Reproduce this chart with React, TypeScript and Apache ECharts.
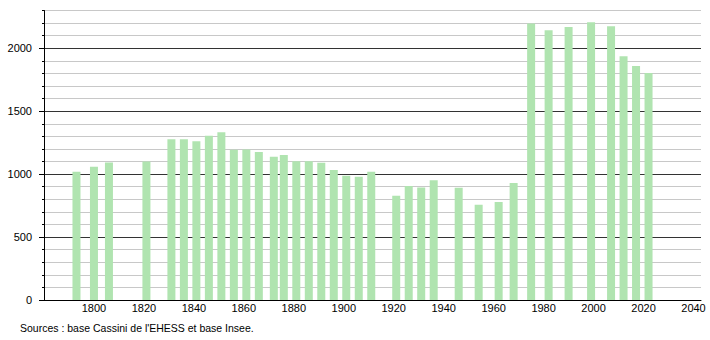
import React, { useEffect, useRef } from "react";
import * as echarts from "echarts";

const years = [1793, 1800, 1806, 1821, 1831, 1836, 1841, 1846, 1851, 1856, 1861, 1866, 1872, 1876, 1881, 1886, 1891, 1896, 1901, 1906, 1911, 1921, 1926, 1931, 1936, 1946, 1954, 1962, 1968, 1975, 1982, 1990, 1999, 2007, 2012, 2017, 2022];
const population = [1018, 1058, 1093, 1101, 1278, 1278, 1262, 1304, 1333, 1193, 1196, 1175, 1138, 1151, 1103, 1103, 1090, 1032, 987, 979, 1018, 828, 905, 894, 952, 891, 757, 778, 929, 2196, 2143, 2169, 2206, 2175, 1937, 1860, 1804];
const yLabelValues = [0, 500, 1000, 1500, 2000];
const sourceText = "Sources : base Cassini de l'EHESS et base Insee.";

export default function App() {
  const ref = useRef<HTMLDivElement>(null);
  useEffect(() => {
    if (!ref.current) return;
    const chart = echarts.init(ref.current, null, { renderer: "svg" });
    const font = "Liberation Sans, Arial, sans-serif";
    chart.setOption({
      animation: false,
      grid: { left: 44, right: 9, top: 10.5, bottom: 40, containLabel: false },
      xAxis: {
        type: "value",
        min: 1780,
        max: 2043,
        interval: 20,
        axisLine: { show: true, lineStyle: { color: "#000", width: 1 } },
        axisTick: { show: false },
        splitLine: { show: false },
        axisLabel: {
          showMinLabel: false,
          showMaxLabel: false,
          color: "#000",
          fontFamily: font,
          fontSize: 11,
          margin: 2,
          formatter: (v: number) => String(v),
        },
      },
      yAxis: [
        {
          type: "value",
          min: 0,
          max: 2300,
          interval: 100,
          position: "left",
          axisLine: { show: true, onZero: false, lineStyle: { color: "#000", width: 1 } },
          axisTick: { show: true, length: 2, lineStyle: { color: "#000" } },
          axisLabel: { show: false },
          splitLine: {
            show: true,
            lineStyle: { color: ["#333", "#c8c8c8", "#c8c8c8", "#c8c8c8", "#c8c8c8"], width: 1 },
          },
        },
        {
          type: "value",
          min: 0,
          max: 2300,
          interval: 100,
          position: "left",
          axisLine: { show: false },
          axisTick: { show: true, length: 5, customValues: yLabelValues, lineStyle: { color: "#000" } },
          axisLabel: {
            show: true,
            customValues: yLabelValues,
            color: "#000",
            fontFamily: font,
            fontSize: 11,
            margin: 12,
            formatter: (v: number) => String(v),
          },
          splitLine: { show: false },
        },
      ],
      series: [
        {
          type: "bar",
          yAxisIndex: 0,
          barWidth: 8,
          itemStyle: { color: "#b0e4b0" },
          data: years.map((y, i) => [y, population[i]]),
        },
      ],
      graphic: [
        {
          type: "text",
          left: 20,
          top: 322,
          style: { text: sourceText, fill: "#000", font: `10.5px ${font}` },
        },
      ],
    });
    return () => chart.dispose();
  }, []);
  return (
    <div
      ref={ref}
      style={{ position: "absolute", left: 0, top: 0, width: 710, height: 340, background: "#fff" }}
    />
  );
}
